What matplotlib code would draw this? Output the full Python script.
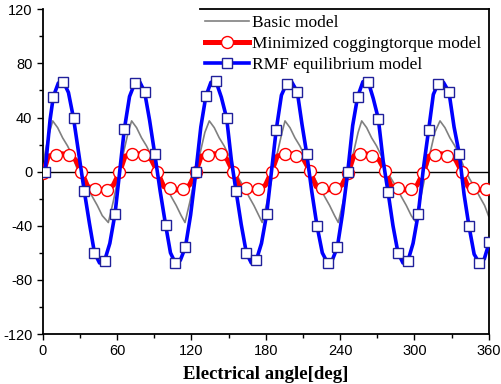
import numpy as np
import matplotlib
matplotlib.use("Agg")
from matplotlib import pyplot as plt

# basic model (gray line)
basic_x = [0, 3, 5.5, 8.1,
           12.1, 16.1, 20.1, 24.1, 28.1, 32.1, 36.1, 40.1, 44.1, 48.1, 53.0,
           57, 61, 65, 69, 71.8,
           75.8, 79.8, 83.8, 87.8, 91.8, 95.8, 99.8, 103.8, 107.8, 111.8, 114.9,
           118.9, 122.9, 126.9, 130.9, 134.5,
           138.5, 142.5, 146.5, 150.5, 154.5, 158.5, 162.5, 166.5, 170.5, 174.5, 177.2,
           181.2, 185.2, 189.2, 193.2, 195.6,
           199.6, 203.6, 207.6, 211.6, 215.6, 219.6, 223.6, 227.6, 231.6, 235.6, 238.6,
           242.6, 246.6, 250.6, 254.6, 257.5,
           261.5, 265.5, 269.5, 273.5, 277.5, 281.5, 285.5, 289.5, 293.5, 297.5, 300.5,
           304.5, 308.5, 312.5, 316.5, 320.7,
           324.7, 328.7, 332.7, 336.7, 340.7, 344.7, 348.7, 352.7, 356.7, 360]
basic_y = [4, 19, 29, 37.5,
           32.5, 25, 19, 11.5, 1.5, -5.5, -11.5, -18.5, -25, -32.5, -37.6,
           -22, -4, 13, 29, 37.5,
           32.5, 25, 19, 11.5, 1.5, -5.5, -11.5, -18.5, -25, -32.5, -37.6,
           -22, -4, 13, 29, 37.5,
           32.5, 25, 19, 11.5, 1.5, -5.5, -11.5, -18.5, -25, -32.5, -37.6,
           -22, -4, 13, 29, 37.5,
           32.5, 25, 19, 11.5, 1.5, -5.5, -11.5, -18.5, -25, -32.5, -37.6,
           -22, -4, 13, 29, 37.5,
           32.5, 25, 19, 11.5, 1.5, -5.5, -11.5, -18.5, -25, -32.5, -36.5,
           -22, -4, 13, 29, 37.5,
           32.5, 25, 19, 11.5, 1.5, -5.5, -11.5, -18.5, -25, -33]

# minimized cogging torque model (red line + circles)
mct_x = [0.5, 4.5, 10.7, 16, 21.4, 26.3, 31.3, 36.3, 42.2, 47, 52, 57,
         62, 66.5, 72.3, 77, 81.6, 87.6, 92.6, 97.6, 102.7, 108, 113, 118.5,
         123.5, 128, 133.7, 138.7, 143.7, 148.9, 153.9, 158.9, 164.2, 169, 174, 179.8,
         184.8, 189.3, 195.6, 200, 204.4, 210.7, 215.7, 220.7, 225.2, 230.5, 235.9, 241.5,
         246.7, 251, 256, 261, 266, 271.3, 276.3, 281.3, 287, 292, 297.3, 302.2,
         307.2, 311.7, 317, 322, 326.6, 333.2, 338.2, 343.2, 347.6, 352.5, 357.6, 362]
mct_y = [-1, 11.5, 12.6, 13.2, 12, 9, 0, -11, -12.6, -13.5, -13.2, -10,
         -0.6, 11.5, 12.9, 13.2, 12.2, 9, 0, -11, -12.4, -13.5, -12.9, -10,
         -0.6, 11.5, 12.5, 13.2, 12.9, 9, -0.6, -11, -12.2, -13.5, -13, -10,
         0, 11.5, 12.9, 13.2, 11.7, 9, 0.6, -11, -12.2, -13.5, -12.2, -10,
         -0.7, 11.5, 12.9, 13.2, 11.7, 9, 0.6, -11, -12.2, -13.5, -13, -10,
         -0.7, 11.5, 12.6, 13.2, 11.7, 9, 0, -11, -12.2, -13.5, -13, -11]
mct_mark_x = [0.5, 10.7, 21.4, 31.3, 42.2, 52, 62, 72.3, 81.6, 92.6, 102.7, 113,
              123.5, 133.7, 143.7, 153.9, 164.2, 174, 184.8, 195.6, 204.4, 215.7, 225.2, 235.9,
              246.7, 256, 266, 276.3, 287, 297.3, 307.2, 317, 326.6, 338.2, 347.6, 357.6]
mct_mark_y = [-1, 12.6, 12, 0, -12.6, -13.2, -0.6, 12.9, 12.2, 0, -12.4, -12.9,
              -0.6, 12.5, 12.9, -0.6, -12.2, -13, 0, 12.9, 11.7, 0.6, -12.2, -12.2,
              -0.7, 12.9, 11.7, 0.6, -12.2, -13, -0.7, 12.6, 11.7, 0, -12.2, -13]

# RMF equilibrium model (blue line + squares)
rmf_mark_x = [1.9, 8.6, 16.7, 24.9, 33.6, 41.8, 50.0, 58.4, 65.9, 74.3, 82.2,
              90.4, 99.3, 107.0, 115.2, 123.6, 131.7, 139.9, 148.5, 156.1, 164.4, 172.4,
              180.8, 188.5, 196.9, 205.5, 213.1, 221.4, 230.0, 237.8, 246.2, 254.2, 262.8,
              270.9, 278.7, 286.8, 294.8, 303.1, 311.5, 319.1, 327.9, 336.2, 344.1, 352.4, 360.5]
rmf_mark_y = [0, 55.5, 66.5, 39.5, -14.5, -60, -65.7, -31.2, 31.2, 65.3, 59.2,
              13.4, -39.8, -67.4, -55.8, -0.5, 55.7, 66.7, 39.5, -14.4, -60, -65.5,
              -31.4, 30.9, 65.1, 59, 13.4, -40, -67.6, -56, -0.4, 55.3, 66.4,
              39.2, -14.7, -60, -66, -31.4, 30.7, 65.1, 59, 13.4, -40.4, -67.6, -52]
rmf_mid_x = [6.0, 12.65, 20.8, 29.25, 37.7, 45.9, 54.2, 62.15, 70.1, 78.25, 86.3,
             94.85, 103.15, 111.1, 119.4, 127.65, 135.8, 144.2, 152.3, 160.25, 168.4, 176.6,
             184.65, 192.7, 201.2, 209.3, 217.25, 225.7, 233.9, 242.0, 250.2, 258.5, 266.85,
             274.8, 282.75, 290.8, 298.95, 307.3, 315.3, 323.5, 332.05, 340.15, 348.25, 356.45]
rmf_mid_y = [38.5, 65.5, 58.5, 12.5, -38, -67.5, -53, 0, 55.5, 66.5, 38,
             -14.5, -60, -65.5, -32, 33, 66, 55, 8.5, -39, -67.5, -53,
             0, 56.5, 66, 35, -15, -60, -65, -31, 34, 66.5, 54,
             8, -40, -67.5, -53, 2.5, 57, 66, 33, -17, -61, -64.5]

# blue line runs through squares and the in-between readings
rmf_x = []
rmf_y = []
for i in range(len(rmf_mark_x)):
    rmf_x.append(rmf_mark_x[i])
    rmf_y.append(rmf_mark_y[i])
    if i < len(rmf_mid_x):
        rmf_x.append(rmf_mid_x[i])
        rmf_y.append(rmf_mid_y[i])

plt.rcParams['font.family'] = ['Liberation Sans', 'DejaVu Sans']
plt.rcParams['axes.unicode_minus'] = False

fig = plt.figure(figsize=(5.02, 3.84), dpi=100)
ax = fig.add_axes([0.085, 0.1302, 0.8885, 0.8456])

ax.axhline(0, color='black', lw=1.0, zorder=1)

ax.plot(basic_x, basic_y, color='#808080', lw=1.2, zorder=2)
l_red, = ax.plot(mct_x, mct_y, color='#ff0000', lw=3.6, zorder=3)
m_red, = ax.plot(mct_mark_x, mct_mark_y, ls='none', marker='o', ms=8.6,
                 mfc='white', mec='#ff0000', mew=1.0, zorder=4)
l_blue, = ax.plot(rmf_x, rmf_y, color='#0000ff', lw=2.6, zorder=5)
m_blue, = ax.plot(rmf_mark_x, rmf_mark_y, ls='none', marker='s', ms=7.4,
                  mfc='white', mec='#20209a', mew=1.0, zorder=6)
l_gray = plt.Line2D([], [], color='#808080', lw=1.2)

ax.set_xlim(0, 360)
ax.set_ylim(-120, 120)
ax.set_xticks(np.arange(0, 361, 60))
ax.set_xticks(np.arange(30, 360, 60), minor=True)
ax.set_yticks(np.arange(-120, 121, 40))
ax.set_yticks(np.arange(-100, 101, 40), minor=True)
ax.tick_params(which='both', direction='out', labelsize=10.5, width=1.0)
ax.tick_params(which='major', length=4)
ax.tick_params(which='minor', length=3)
ax.tick_params(axis='x', pad=3)

ax.spines['top'].set_visible(False)
for s in ['left', 'bottom', 'right']:
    ax.spines[s].set_linewidth(1.3)
# top border only over the legend part
ax.plot([0.3527, 1.0], [1.0, 1.0], transform=ax.transAxes, color='black',
        lw=1.3, clip_on=False, zorder=7)

ax.set_xlabel('Electrical angle[deg]', family='Liberation Serif', fontweight='bold',
              fontsize=13.5, labelpad=6)

leg = ax.legend([l_gray, (l_red, m_red), (l_blue, m_blue)],
                ['Basic model', 'Minimized coggingtorque model', 'RMF equilibrium model'],
                loc='upper left', bbox_to_anchor=(0.3527, 1.0), frameon=False,
                handlelength=2.5, handletextpad=0.2,
                labelspacing=0.3, borderpad=0.3, borderaxespad=0,
                prop={'family': 'Liberation Serif', 'size': 12.5})

fig.savefig('out.png', dpi=100)
